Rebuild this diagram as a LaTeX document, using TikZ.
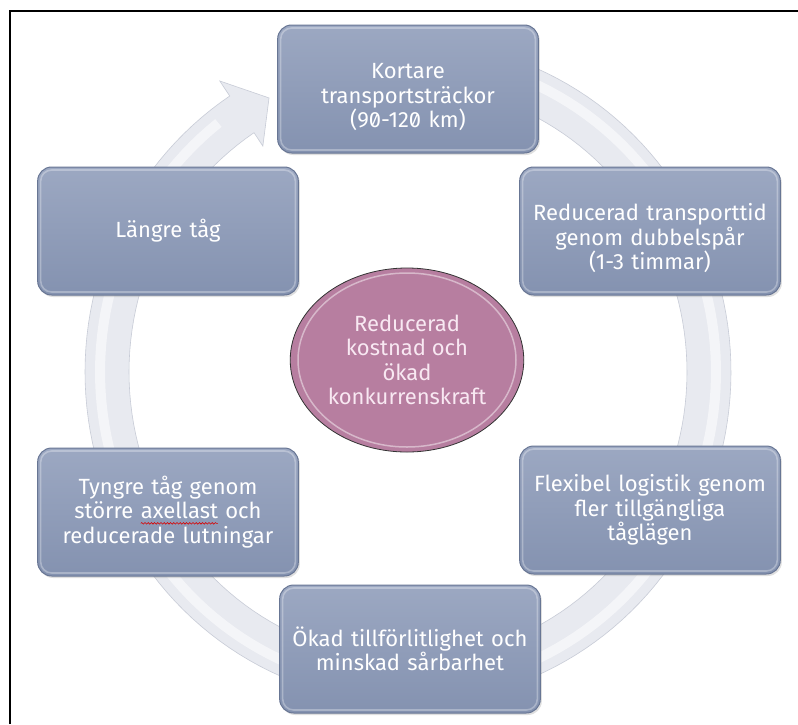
\documentclass[tikz,border=0pt]{standalone}
\usepackage{fontspec}
\setmainfont{Fira Sans}[RawFeature=+zero]
\usetikzlibrary{shapes.geometric,shadows,decorations.pathmorphing}
\definecolor{boxtop}{RGB}{156,168,194}
\definecolor{boxbot}{RGB}{132,146,176}
\definecolor{boxedge}{RGB}{104,118,148}
\definecolor{ringfill}{RGB}{232,234,240}
\definecolor{ringedge}{RGB}{200,204,215}
\definecolor{circfill}{RGB}{183,126,160}
\definecolor{circtext}{RGB}{248,232,242}
\newlength\wA \newlength\wB \newlength\wL \newlength\hA \newlength\dC
\newlength\wx \newlength\wy
\newcommand{\boxfont}{\fontsize{22}{24.5}\selectfont}
\newcommand{\dn}{\rule{0pt}{32pt}}
\begin{document}
\settowidth\wA{\boxfont större\ }%
\settowidth\wB{\boxfont axellast}%
\settowidth\wL{\boxfont större axellast och}%
\settoheight\hA{\boxfont Tyngre tåg genom}%
\settodepth\dC{\boxfont reducerade lutningar}%
\setlength\wx{\dimexpr\wA-\wL/2\relax}%
\setlength\wy{\dimexpr(\dC-\hA)/2-4.5pt\relax}%
\begin{tikzpicture}[x=1pt,y=-1pt,
  cbox/.style={rectangle, rounded corners=14pt, minimum width=260pt, minimum height=128pt,
    top color=boxtop, bottom color=boxbot, draw=boxedge, line width=1pt,
    text=white, font=\boxfont, align=center, text width=254pt,
    drop shadow={opacity=0.25, shadow xshift=1.5pt, shadow yshift=-2pt}},
  bevel/.style={draw=white, opacity=0.3, line width=1.6pt, rounded corners=11pt},
  cring/.style={ellipse, minimum width=227pt, minimum height=184pt, fill=circfill,
    draw=black!80, line width=0.8pt, text=circtext, font=\boxfont, align=center},
  frame/.style={line width=1.5pt, black},
  spell/.style={red!85!black, line width=0.6pt, decorate,
    decoration={snake, amplitude=0.8pt, segment length=3.2pt}}
]
\useasboundingbox (0,0) rectangle (798,724);
\fill[white] (0,0) rectangle (798,724);
\draw[frame] (10,724) -- (10,11) -- (798,11);

% circular arrow
\path[fill=ringfill, draw=ringedge, line width=0.6pt]
  plot[domain=285:596.5, samples=150] ({408+323*cos(\x)},{372+331*sin(\x)})
  -- ({408+341*cos(596.5)},{372+349*sin(596.5)})
  -- ({408+301*cos(602.5)},{372+309*sin(602.5)})
  -- ({408+263*cos(596.5)},{372+271*sin(596.5)})
  -- plot[domain=596.5:285, samples=150] ({408+279*cos(\x)},{372+287*sin(\x)})
  -- cycle;
\draw[white, opacity=0.55, line width=10pt]
  plot[domain=285:592, samples=150] ({408+308*cos(\x)},{372+316*sin(\x)});

% boxes
\node[cbox] (t)  at (408,89)  {\dn Kortare\\transportsträckor\\(90-120 km)};
\node[cbox] (ru) at (650,231) {\dn Reducerad transporttid\\genom dubbelspår\\(1-3 timmar)};
\node[cbox] (rl) at (650,510) {Flexibel logistik genom\\fler tillgängliga\\tåglägen};
\node[cbox] (b)  at (410,649) {Ökad tillförlitlighet och\\minskad sårbarhet};
\node[cbox] (ll) at (168,512) {Tyngre tåg genom\\större axellast och\\reducerade lutningar};
\node[cbox] (lu) at (168,231) {Längre tåg};
\foreach \n in {t,ru,rl,b,ll,lu}
  \draw[bevel] ([shift={(3.5pt,-3.5pt)}]\n.north west) rectangle ([shift={(-3.5pt,3.5pt)}]\n.south east);

% spell-check wave under "axellast"
\coordinate (w1) at ([xshift=\wx, yshift=\wy]ll.center);
\coordinate (w2) at ([xshift=\wB]w1);
\draw[spell] (w1) -- (w2);

% centre
\node[cring] (c) at (407,360) {Reducerad\\kostnad och\\ökad\\konkurrenskraft};
\draw[white, opacity=0.45, line width=1.5pt] (c.center) ellipse [x radius=109, y radius=87];
\end{tikzpicture}
\end{document}
